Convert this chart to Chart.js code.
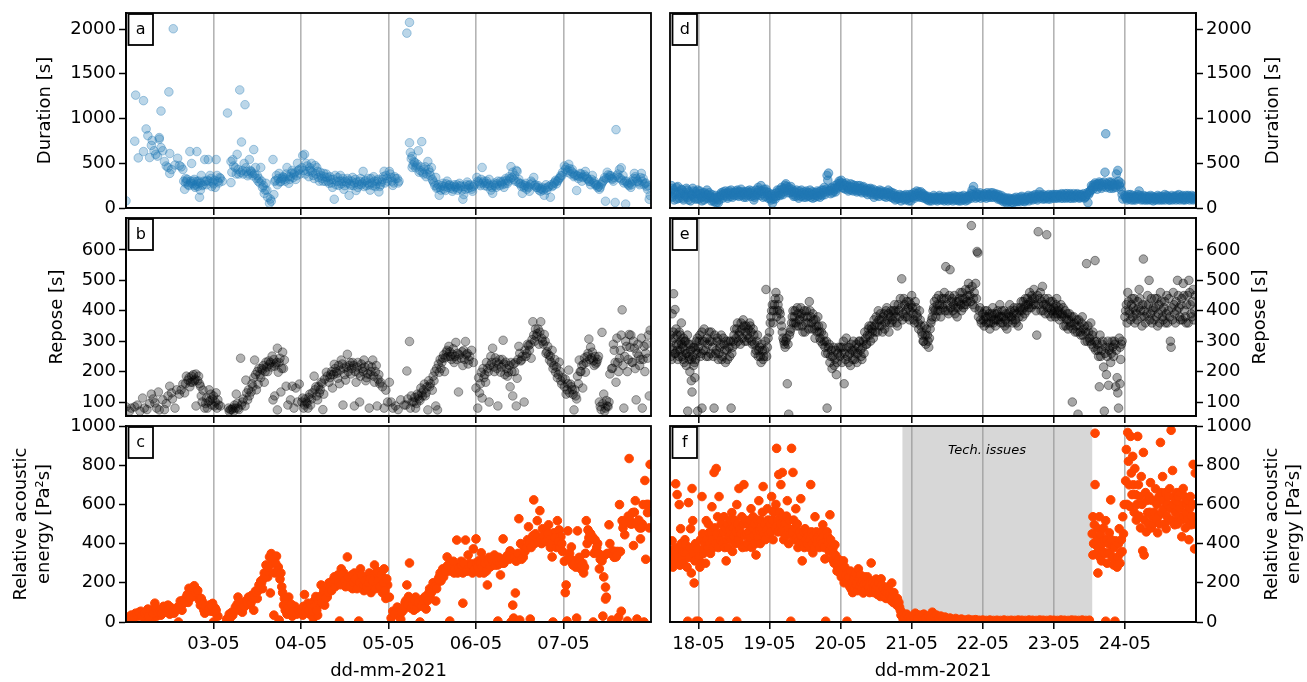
<!DOCTYPE html>
<html>
<head>
<meta charset="utf-8">
<script src="https://cdn.jsdelivr.net/npm/chart.js@4.4.1/dist/chart.umd.min.js"></script>
<style>
  body { margin: 0; background: #fff; }
  #wrap { position: relative; width: 1307px; height: 682px; overflow: hidden; }
  #wrap canvas { position: absolute; }
</style>
</head>
<body>
<div id="wrap"></div>
<script>
// tick positions / labels
var leftDays = [3, 4, 5, 6, 7];
var rightDays = [18, 19, 20, 21, 22, 23, 24];
var durTicks = [0, 500, 1000, 1500, 2000];
var reposeTicks = [100, 200, 300, 400, 500, 600];
var energyTicks = [0, 200, 400, 600, 800, 1000];
var techIssues = [20.87, 23.54];

// [day of May, value]
var durLeft = [
[2.00,80],[2.10,747],[2.11,1262],[2.14,560],[2.20,1200],[2.20,631],[2.23,884],[2.25,809],[2.27,564],[2.29,700],[2.30,755],[2.32,640],[2.34,600],[2.36,580],[2.38,787],[2.38,770],[2.40,675],[2.40,1084],[2.42,640],[2.44,520],[2.46,470],[2.48,453],[2.49,1298],[2.50,609],[2.50,387],[2.52,430],[2.54,2004],[2.56,480],[2.59,556],[2.61,475],[2.63,460],[2.65,431],[2.67,209],[2.68,330],[2.69,300],[2.71,260],[2.73,631],[2.74,280],[2.75,498],[2.77,300],[2.78,250],[2.79,231],[2.81,631],[2.81,298],[2.82,276],[2.84,120],[2.85,200],[2.86,364],[2.88,260],[2.90,542],[2.91,298],[2.93,310],[2.94,542],[2.96,364],[2.98,240],[2.99,290],[3.02,231],[3.03,542],[3.04,364],[3.05,298],[3.07,340],[3.10,300],
[2.66,300],[2.68,280],[2.70,320],[2.72,250],[2.74,300],[2.76,270],[2.78,320],[2.80,260],[2.82,240],[2.83,300],[2.85,280],[2.87,250],[2.89,300],[2.92,260],[2.95,300],[2.97,330],[3.00,270],[3.01,310],[3.06,280],[3.08,330],
[3.16,1062],[3.20,520],[3.20,284],[3.22,540],[3.25,450],[3.27,600],[3.29,380],[3.30,1320],[3.32,738],[3.33,420],[3.35,498],[3.36,1155],[3.38,409],[3.40,380],[3.41,542],[3.43,409],[3.45,360],[3.46,653],[3.48,453],[3.50,364],[3.52,330],[3.54,453],[3.55,300],[3.57,250],[3.58,164],[3.60,276],[3.61,200],[3.62,120],[3.64,53],[3.65,100],[3.66,76],[3.68,542],[3.69,150],[3.70,298],[3.72,364],[3.73,260],[3.75,387],[3.77,298],[3.78,330],[3.80,342],[3.82,300],[3.84,453],[3.86,276],[3.88,350],[3.90,420],[3.92,380],[3.94,320],[3.96,500],[3.98,430],
[3.21,400],[3.23,470],[3.26,380],[3.28,430],[3.31,400],[3.34,380],[3.37,450],[3.39,360],[3.42,420],[3.44,390],[3.47,380],[3.49,330],[3.51,300],[3.53,280],[3.56,230],[3.59,200],
[3.71,310],[3.74,330],[3.76,290],[3.79,350],[3.81,320],[3.83,380],[3.85,350],[3.87,320],[3.89,390],[3.91,340],[3.93,400],[3.95,360],[3.97,420],[3.99,380],
[4.02,587],[4.04,600],[4.06,498],[4.08,409],[4.10,450],[4.12,498],[4.14,364],[4.16,475],[4.18,453],[4.20,342],[4.22,400],[4.24,330],[4.26,387],[4.28,298],[4.30,342],[4.32,276],[4.34,320],[4.36,231],[4.38,98],[4.39,364],[4.41,298],[4.43,253],[4.45,364],[4.47,300],[4.49,209],[4.51,298],[4.53,330],[4.55,142],[4.57,253],[4.59,342],[4.61,280],[4.63,196],[4.65,231],[4.67,298],[4.69,260],[4.71,409],[4.73,300],[4.75,250],[4.77,330],[4.79,200],[4.81,280],[4.83,350],[4.85,240],[4.87,300],[4.89,180],[4.91,260],[4.93,320],[4.95,410],[4.97,364],[4.99,300],
[4.01,450],[4.03,420],[4.05,380],[4.07,470],[4.09,350],[4.11,420],[4.13,400],[4.15,330],[4.17,380],[4.19,410],[4.21,300],[4.23,360],[4.25,300],[4.27,350],[4.29,380],[4.31,300],[4.33,350],[4.35,280],[4.37,320],[4.40,260],[4.42,340],[4.44,300],[4.46,270],[4.48,330],[4.50,250],[4.52,280],[4.54,310],[4.56,270],[4.58,300],[4.60,250],[4.62,320],[4.64,290],[4.66,260],[4.68,330],[4.70,280],[4.72,240],[4.74,310],[4.76,280],[4.78,260],[4.80,330],[4.82,250],[4.84,300],[4.86,270],[4.88,320],[4.90,240],[4.92,290],[4.94,350],[4.96,280],[4.98,330],
[5.01,409],[5.03,342],[5.05,253],[5.07,350],[5.10,330],[5.12,300],[5.21,1955],[5.24,2075],[5.24,729],[5.25,620],[5.27,578],[5.27,453],[5.29,520],[5.30,507],[5.32,470],[5.34,640],[5.35,400],[5.37,460],[5.38,742],[5.40,380],[5.41,431],[5.43,350],[5.45,520],[5.47,400],[5.49,453],[5.51,300],[5.53,250],[5.54,342],[5.56,231],[5.58,142],[5.60,200],[5.62,276],[5.64,240],[5.65,196],[5.67,300],[5.69,253],[5.71,220],[5.73,187],[5.75,260],[5.77,231],[5.79,200],[5.81,276],[5.83,240],[5.85,98],[5.86,150],[5.88,209],[5.90,290],[5.92,253],[5.94,230],[5.96,187],[5.98,260],
[5.02,380],[5.04,300],[5.06,280],[5.08,330],[5.11,280],[5.26,550],[5.28,480],[5.31,450],[5.33,490],[5.36,420],[5.39,400],[5.42,460],[5.44,380],[5.46,430],[5.48,360],[5.50,320],
[5.52,280],[5.55,220],[5.57,260],[5.59,230],[5.61,250],[5.63,210],[5.66,270],[5.68,230],[5.70,260],[5.72,240],[5.74,210],[5.76,240],[5.78,260],[5.80,220],[5.82,250],[5.84,200],[5.87,240],[5.89,260],[5.91,220],[5.93,260],[5.95,210],[5.97,240],
[6.01,342],[6.03,290],[6.05,250],[6.07,453],[6.09,300],[6.11,276],[6.13,240],[6.15,320],[6.17,200],[6.19,164],[6.21,280],[6.23,231],[6.25,300],[6.28,298],[6.30,260],[6.32,231],[6.34,330],[6.36,276],[6.38,350],[6.40,462],[6.42,400],[6.44,364],[6.46,420],[6.47,409],[6.49,320],[6.51,276],[6.53,164],[6.55,230],[6.57,276],[6.59,240],[6.61,187],[6.63,300],[6.66,342],[6.68,260],[6.70,231],[6.72,200],[6.74,187],[6.76,230],[6.78,142],[6.80,260],[6.82,231],[6.85,120],[6.87,240],[6.89,276],[6.91,310],[6.93,298],[6.95,330],[6.97,364],[6.99,400],
[6.02,300],[6.04,270],[6.06,320],[6.08,280],[6.10,250],[6.12,300],[6.14,270],[6.16,250],[6.18,230],[6.20,260],[6.22,250],[6.24,270],[6.27,250],[6.29,280],[6.31,300],[6.33,270],[6.35,310],[6.37,300],[6.39,330],[6.41,340],[6.43,320],[6.45,300],[6.48,290],[6.50,270],[6.52,240],[6.54,260],[6.56,250],[6.58,210],[6.60,230],[6.62,260],[6.64,280],[6.67,250],[6.69,230],[6.71,250],[6.73,220],[6.75,210],[6.77,200],[6.79,220],[6.81,200],[6.83,240],[6.86,260],[6.88,250],[6.90,290],[6.92,270],[6.94,310],[6.96,340],[6.98,360],
[7.01,470],[7.03,453],[7.05,420],[7.06,489],[7.08,380],[7.10,431],[7.12,350],[7.13,364],[7.15,196],[7.17,330],[7.19,387],[7.21,300],[7.23,350],[7.25,409],[7.27,330],[7.29,298],[7.31,260],[7.33,364],[7.35,300],[7.37,253],[7.39,230],[7.41,209],[7.43,260],[7.45,298],[7.47,340],[7.48,76],[7.50,400],[7.53,364],[7.55,330],[7.57,300],[7.59,62],[7.60,876],[7.62,380],[7.64,431],[7.66,450],[7.68,364],[7.70,300],[7.71,44],[7.73,276],[7.75,250],[7.77,231],[7.79,300],[7.81,387],[7.83,330],[7.85,298],[7.87,260],[7.89,387],[7.91,330],[7.93,276],[7.95,240],[7.96,209],[7.98,98],[7.99,140],
[7.02,430],[7.04,400],[7.07,440],[7.09,410],[7.11,390],[7.14,370],[7.16,360],[7.18,350],[7.20,380],[7.22,340],[7.24,370],[7.26,350],[7.28,320],[7.30,300],[7.32,320],[7.34,280],[7.36,270],[7.38,260],[7.40,240],[7.42,230],[7.44,280],[7.46,310],[7.49,330],[7.51,370],[7.52,340],[7.54,360],[7.56,320],[7.58,340],[7.61,360],[7.63,340],[7.65,330],[7.67,310],[7.69,280],[7.72,300],[7.74,260],[7.76,280],[7.78,260],[7.80,330],[7.82,350],[7.84,300],[7.86,280],[7.88,340],[7.90,300],[7.92,260],[7.94,280],[7.97,250]
];

var reposeLeft = [
[2.00,84],[2.04,70],[2.10,84],[2.13,90],[2.19,113],[2.21,80],[2.24,75],[2.27,95],[2.29,126],[2.33,97],[2.37,133],[2.38,74],[2.42,107],[2.44,75],[2.48,120],[2.50,152],[2.53,110],[2.56,80],[2.58,140],[2.61,126],[2.65,159],[2.67,130],[2.69,185],[2.71,172],[2.73,150],[2.75,185],[2.76,165],[2.78,170],[2.80,192],[2.80,87],[2.83,185],[2.85,152],[2.86,120],[2.88,139],[2.90,80],[2.92,113],[2.94,100],[2.95,140],[2.97,126],[2.99,110],[3.01,87],[3.03,130],[3.05,107],[3.06,90],[3.08,87],
[2.06,80],[2.16,70],[2.31,110],[2.35,80],[2.46,95],[2.52,130],[2.63,140],[2.68,160],[2.72,180],[2.74,165],[2.77,190],[2.79,175],[2.82,170],[2.84,160],[2.87,100],[2.91,95],[2.93,80],[2.96,105],[2.98,90],[3.00,120],[3.02,100],[3.04,80],
[3.17,80],[3.19,75],[3.22,80],[3.24,90],[3.26,126],[3.28,80],[3.31,244],[3.33,100],[3.36,87],[3.37,172],[3.39,107],[3.41,120],[3.43,133],[3.45,150],[3.47,238],[3.49,140],[3.51,159],[3.52,211],[3.54,180],[3.56,205],[3.58,165],[3.60,231],[3.62,200],[3.64,224],[3.66,215],[3.67,251],[3.68,107],[3.70,218],[3.70,120],[3.72,230],[3.73,277],[3.73,74],[3.74,198],[3.76,244],[3.77,133],[3.78,210],[3.79,264],[3.81,238],[3.83,152],[3.85,90],[3.88,107],[3.90,152],[3.92,80],[3.94,146],[3.96,100],[3.98,159],
[3.18,70],[3.21,75],[3.23,70],[3.25,80],[3.27,95],[3.29,75],[3.32,90],[3.34,110],[3.38,130],[3.40,140],[3.44,160],[3.46,180],[3.48,190],[3.50,200],[3.53,190],[3.55,210],[3.57,220],[3.59,200],[3.61,215],[3.63,235],[3.65,230],[3.69,240],[3.71,225],[3.75,230],[3.80,210],
[4.02,113],[4.04,90],[4.06,100],[4.08,80],[4.10,126],[4.12,110],[4.15,185],[4.17,150],[4.19,107],[4.21,130],[4.23,165],[4.25,75],[4.26,126],[4.29,198],[4.32,165],[4.34,190],[4.36,146],[4.38,224],[4.40,200],[4.42,178],[4.44,160],[4.46,238],[4.48,90],[4.49,211],[4.51,172],[4.53,257],[4.55,220],[4.57,192],[4.59,230],[4.61,87],[4.63,165],[4.65,230],[4.67,100],[4.68,185],[4.70,210],[4.72,238],[4.74,170],[4.76,192],[4.78,80],[4.80,200],[4.82,238],[4.84,165],[4.86,220],[4.87,87],[4.89,190],[4.91,165],[4.93,150],[4.95,80],[4.97,139],[4.99,100],
[4.01,100],[4.03,80],[4.05,110],[4.07,95],[4.09,115],[4.11,90],[4.13,130],[4.16,140],[4.18,120],[4.20,150],[4.22,140],[4.24,160],[4.27,175],[4.30,185],[4.33,180],[4.35,200],[4.37,190],[4.39,210],[4.41,195],[4.43,220],[4.45,205],[4.47,225],[4.50,190],[4.52,215],[4.54,200],[4.56,230],[4.58,210],[4.60,220],[4.62,200],[4.64,215],[4.66,195],[4.69,225],[4.71,200],[4.73,215],[4.75,180],[4.77,220],[4.79,190],[4.81,215],[4.83,185],[4.85,200],[4.88,175],[4.90,160],
[5.01,165],[5.03,100],[5.05,80],[5.08,87],[5.11,75],[5.14,107],[5.18,90],[5.21,202],[5.24,299],[5.26,120],[5.29,100],[5.31,80],[5.33,126],[5.35,110],[5.37,146],[5.39,120],[5.41,159],[5.43,130],[5.45,74],[5.47,150],[5.50,139],[5.52,170],[5.54,87],[5.56,74],[5.58,198],[5.60,210],[5.62,244],[5.64,200],[5.66,264],[5.69,283],[5.71,250],[5.73,257],[5.75,230],[5.77,296],[5.79,260],[5.80,133],[5.83,244],[5.85,220],[5.86,270],[5.88,299],[5.90,260],[5.92,238],[5.95,270],[5.97,230],
[5.20,90],[5.22,110],[5.25,80],[5.27,100],[5.30,115],[5.32,95],[5.34,120],[5.36,105],[5.38,130],[5.40,140],[5.42,120],[5.44,150],[5.46,170],[5.48,160],[5.51,185],[5.53,200],[5.55,210],[5.57,225],[5.59,240],[5.61,230],[5.63,255],[5.65,245],[5.67,270],[5.68,250],[5.70,265],[5.72,240],[5.74,275],[5.76,250],[5.78,240],[5.81,255],[5.84,265],[5.87,240],[5.89,255],[5.91,225],[5.93,250],
[6.00,146],[6.02,80],[6.04,130],[6.06,198],[6.07,113],[6.09,180],[6.11,165],[6.13,210],[6.15,100],[6.17,250],[6.19,277],[6.21,200],[6.23,231],[6.25,87],[6.27,240],[6.28,198],[6.31,303],[6.33,190],[6.34,231],[6.37,198],[6.39,150],[6.42,120],[6.44,200],[6.46,87],[6.47,178],[6.49,283],[6.52,238],[6.55,100],[6.57,250],[6.59,290],[6.61,270],[6.63,244],[6.65,364],[6.67,300],[6.69,316],[6.71,340],[6.72,290],[6.74,364],[6.76,300],[6.78,322],[6.80,260],[6.82,283],[6.84,238],[6.87,270],[6.89,220],[6.91,198],[6.93,180],[6.95,231],[6.98,159],
[6.03,180],[6.05,160],[6.08,210],[6.10,190],[6.12,230],[6.14,200],[6.16,220],[6.18,230],[6.20,215],[6.22,245],[6.24,210],[6.26,225],[6.29,215],[6.30,240],[6.32,225],[6.35,210],[6.36,185],[6.38,220],[6.40,230],[6.41,200],[6.43,225],[6.45,230],[6.48,240],[6.50,260],[6.51,235],[6.53,250],[6.56,270],[6.58,260],[6.60,285],[6.62,290],[6.64,305],[6.66,320],[6.68,340],[6.70,325],[6.73,330],[6.75,310],[6.77,290],[6.79,300],[6.81,265],[6.83,255],[6.85,250],[6.86,230],[6.88,210],[6.90,240],[6.92,215],[6.94,190],[6.96,200],[6.97,170],[6.99,180],
[7.01,150],[7.03,126],[7.06,205],[7.08,159],[7.10,140],[7.12,74],[7.14,120],[7.16,185],[7.18,238],[7.20,200],[7.22,146],[7.25,198],[7.27,250],[7.29,307],[7.31,280],[7.33,264],[7.35,220],[7.38,231],[7.40,250],[7.41,100],[7.44,329],[7.46,126],[7.48,80],[7.50,87],[7.52,100],[7.53,192],[7.56,211],[7.58,270],[7.60,165],[7.62,230],[7.64,244],[7.67,403],[7.69,80],[7.70,250],[7.72,283],[7.74,240],[7.75,322],[7.78,231],[7.81,277],[7.83,107],[7.84,260],[7.86,251],[7.88,240],[7.90,80],[7.92,283],[7.94,260],[7.96,244],[7.98,120],[7.99,336],
[7.02,175],[7.04,140],[7.05,160],[7.07,130],[7.09,150],[7.11,125],[7.13,140],[7.15,110],[7.17,160],[7.19,200],[7.21,220],[7.23,225],[7.24,245],[7.26,230],[7.28,260],[7.30,240],[7.32,245],[7.34,235],[7.36,250],[7.37,225],[7.39,240],[7.42,85],[7.43,75],[7.45,95],[7.47,70],[7.49,105],[7.51,85],[7.55,210],[7.57,290],[7.59,230],[7.61,310],[7.63,200],[7.65,270],[7.66,320],[7.68,220],[7.71,300],[7.73,200],[7.76,280],[7.77,320],[7.79,230],[7.80,300],[7.82,210],[7.85,290],[7.87,220],[7.89,310],[7.91,240],[7.93,200],[7.95,290],[7.97,320]
];

var energyLeft = [
[2.00,25],[2.02,5],[2.05,29],[2.08,15],[2.11,45],[2.14,30],[2.17,55],[2.20,35],[2.22,10],[2.25,66],[2.27,40],[2.29,50],[2.30,0],[2.33,96],[2.35,30],[2.37,55],[2.40,35],[2.42,70],[2.44,55],[2.48,86],[2.50,40],[2.52,60],[2.55,45],[2.59,76],[2.60,0],[2.62,107],[2.64,60],[2.66,96],[2.69,127],[2.71,100],[2.72,172],[2.74,150],[2.76,148],[2.78,185],[2.80,168],[2.81,140],[2.83,127],[2.85,86],[2.87,107],[2.89,60],[2.90,45],[2.93,76],[2.95,86],[2.97,55],[2.99,95],[3.00,0],[3.02,70],[3.05,30],
[2.03,20],[2.06,35],[2.09,25],[2.12,40],[2.15,50],[2.18,30],[2.21,45],[2.24,55],[2.26,30],[2.28,60],[2.31,45],[2.34,70],[2.36,50],[2.39,60],[2.41,45],[2.43,80],[2.46,50],[2.49,65],[2.51,75],[2.54,55],[2.57,60],[2.61,80],[2.63,90],[2.65,110],[2.67,100],[2.70,140],[2.73,120],[2.75,165],[2.77,130],[2.79,150],[2.82,160],[2.84,110],[2.86,120],[2.88,90],[2.91,80],[2.94,60],[2.96,70],[2.98,80],[3.01,50],[3.03,60],
[3.15,14],[3.18,40],[3.22,35],[3.25,76],[3.28,127],[3.30,60],[3.31,86],[3.33,50],[3.35,100],[3.37,107],[3.40,127],[3.42,90],[3.44,137],[3.46,60],[3.48,158],[3.50,120],[3.52,189],[3.54,209],[3.56,170],[3.58,250],[3.60,291],[3.62,230],[3.64,332],[3.65,148],[3.66,349],[3.68,301],[3.69,35],[3.70,250],[3.72,336],[3.74,281],[3.75,10],[3.76,219],[3.78,180],[3.80,86],[3.82,60],[3.84,40],[3.86,127],[3.88,50],[3.90,30],[3.93,80],
[3.19,20],[3.21,50],[3.24,55],[3.27,90],[3.29,100],[3.32,70],[3.34,85],[3.36,80],[3.39,95],[3.41,110],[3.43,100],[3.45,120],[3.47,130],[3.49,150],[3.51,160],[3.53,175],[3.55,200],[3.57,220],[3.59,230],[3.61,260],[3.63,280],[3.67,320],[3.71,300],[3.73,260],[3.77,250],[3.79,150],[3.81,120],[3.83,90],[3.85,70],[3.87,60],[3.89,90],[3.91,55],[3.95,40],[3.97,60],[3.99,50],
[4.02,35],[4.04,140],[4.06,60],[4.08,96],[4.10,40],[4.12,66],[4.14,20],[4.15,107],[4.17,130],[4.19,35],[4.21,90],[4.23,189],[4.25,140],[4.27,86],[4.29,160],[4.30,127],[4.32,200],[4.34,168],[4.36,210],[4.38,230],[4.40,190],[4.42,240],[4.44,5],[4.46,271],[4.48,220],[4.49,250],[4.51,180],[4.53,332],[4.55,200],[4.57,219],[4.59,170],[4.61,250],[4.63,190],[4.65,230],[4.66,5],[4.68,271],[4.70,209],[4.72,160],[4.74,168],[4.76,230],[4.78,250],[4.80,150],[4.81,189],[4.83,240],[4.84,291],[4.86,200],[4.87,260],[4.89,180],[4.91,219],[4.93,150],[4.95,271],[4.97,120],[4.99,189],
[4.01,60],[4.03,80],[4.05,50],[4.07,75],[4.09,60],[4.11,90],[4.13,55],[4.16,80],[4.18,60],[4.20,110],[4.22,130],[4.24,100],[4.26,160],[4.28,120],[4.31,150],[4.33,180],[4.35,160],[4.37,200],[4.39,180],[4.41,220],[4.43,200],[4.45,190],[4.47,240],[4.50,210],[4.52,190],[4.54,230],[4.56,180],[4.58,240],[4.60,200],[4.62,220],[4.64,170],[4.67,200],[4.69,240],[4.71,190],[4.73,210],[4.75,180],[4.77,200],[4.79,220],[4.82,210],[4.85,170],[4.88,210],[4.90,180],[4.92,240],[4.94,200],[4.96,160],[4.98,220],
[5.01,127],[5.03,20],[5.05,55],[5.07,40],[5.10,76],[5.12,30],[5.14,14],[5.17,60],[5.19,100],[5.21,189],[5.24,301],[5.27,96],[5.29,60],[5.31,127],[5.33,80],[5.35,86],[5.36,0],[5.37,100],[5.39,117],[5.41,90],[5.43,66],[5.44,130],[5.46,148],[5.48,120],[5.50,160],[5.52,189],[5.54,107],[5.56,200],[5.58,230],[5.60,210],[5.62,271],[5.64,250],[5.66,280],[5.67,332],[5.69,260],[5.70,5],[5.71,291],[5.73,300],[5.75,250],[5.77,280],[5.78,418],[5.79,250],[5.81,291],[5.83,310],[5.85,250],[5.85,96],[5.87,280],[5.88,418],[5.90,260],[5.91,342],[5.93,300],[5.94,271],[5.96,250],[5.97,373],[5.99,300],
[5.15,50],[5.18,80],[5.20,110],[5.22,90],[5.23,130],[5.25,110],[5.26,70],[5.28,90],[5.30,110],[5.32,70],[5.34,100],[5.38,80],[5.40,110],[5.42,130],[5.45,110],[5.47,170],[5.49,150],[5.51,200],[5.53,180],[5.55,170],[5.57,220],[5.59,250],[5.61,240],[5.63,230],[5.65,260],[5.68,290],[5.72,270],[5.74,310],[5.76,270],[5.80,270],[5.82,260],[5.84,290],[5.86,300],[5.89,260],[5.92,280],[5.95,290],[5.98,270],
[6.00,424],[6.01,300],[6.03,312],[6.04,250],[6.06,353],[6.08,320],[6.09,250],[6.11,280],[6.13,189],[6.15,330],[6.17,291],[6.19,300],[6.21,342],[6.23,320],[6.25,291],[6.25,5],[6.26,330],[6.28,240],[6.30,300],[6.31,424],[6.33,320],[6.35,332],[6.37,330],[6.39,363],[6.40,0],[6.41,350],[6.42,86],[6.43,20],[6.45,148],[6.47,330],[6.49,527],[6.50,10],[6.51,400],[6.53,342],[6.55,380],[6.57,373],[6.59,420],[6.60,486],[6.62,390],[6.62,15],[6.64,414],[6.66,623],[6.68,450],[6.70,517],[6.72,430],[6.73,568],[6.75,400],[6.76,476],[6.78,420],[6.79,435],[6.81,460],[6.83,496],[6.85,380],[6.87,332],[6.88,0],[6.89,455],[6.91,400],[6.93,517],[6.95,470],[6.97,435],[6.99,360],
[6.02,280],[6.05,300],[6.07,280],[6.10,300],[6.12,260],[6.14,310],[6.16,280],[6.18,320],[6.20,300],[6.22,290],[6.24,310],[6.27,300],[6.29,320],[6.32,300],[6.34,320],[6.36,340],[6.38,320],[6.44,330],[6.46,310],[6.48,350],[6.52,320],[6.54,330],[6.56,360],[6.58,380],[6.61,400],[6.63,380],[6.65,440],[6.67,400],[6.69,430],[6.71,410],[6.74,420],[6.77,440],[6.80,410],[6.82,450],[6.84,420],[6.86,400],[6.90,430],[6.92,380],[6.94,410],[6.96,380],[6.98,400],
[7.01,310],[7.02,150],[7.03,189],[7.04,5],[7.05,465],[7.07,350],[7.09,383],[7.10,300],[7.12,312],[7.14,280],[7.15,20],[7.16,465],[7.18,330],[7.20,271],[7.22,300],[7.23,250],[7.26,517],[7.28,470],[7.30,455],[7.32,420],[7.33,435],[7.34,0],[7.35,350],[7.37,363],[7.39,400],[7.41,271],[7.43,340],[7.44,312],[7.45,30],[7.46,230],[7.48,178],[7.48,117],[7.49,127],[7.52,496],[7.54,350],[7.55,10],[7.56,363],[7.58,330],[7.60,332],[7.62,360],[7.63,25],[7.64,599],[7.66,55],[7.67,517],[7.70,445],[7.72,520],[7.73,5],[7.75,834],[7.77,500],[7.79,558],[7.80,390],[7.82,619],[7.84,15],[7.85,496],[7.87,480],[7.88,424],[7.90,500],[7.91,599],[7.92,0],[7.93,722],[7.94,320],[7.96,558],[7.97,600],[7.99,804],
[7.06,330],[7.08,320],[7.11,290],[7.13,300],[7.17,300],[7.19,310],[7.21,290],[7.24,280],[7.25,350],[7.27,400],[7.29,430],[7.31,450],[7.36,420],[7.38,380],[7.40,350],[7.42,320],[7.47,340],[7.50,350],[7.53,400],[7.57,340],[7.59,360],[7.61,340],[7.65,360],[7.68,480],[7.69,500],[7.71,510],[7.74,540],[7.76,520],[7.78,500],[7.81,560],[7.83,500],[7.86,520],[7.89,480],[7.95,600],[7.98,480]
];

var durRight = [
[17.60,180],[17.62,250],[17.63,120],[17.65,200],[17.67,150],[17.69,230],[17.70,100],[17.72,180],[17.74,140],[17.76,210],[17.78,110],[17.80,170],[17.82,130],[17.84,200],[17.86,90],[17.88,160],[17.90,140],[17.92,220],[17.94,120],[17.96,180],[17.98,100],
[17.61,130],[17.64,220],[17.66,90],[17.68,170],[17.71,240],[17.73,110],[17.75,160],[17.77,200],[17.79,90],[17.81,150],[17.83,220],[17.85,120],[17.87,180],[17.89,80],[17.91,150],[17.93,190],[17.95,100],[17.97,160],[17.99,200],
[18.00,150],[18.02,190],[18.04,120],[18.06,170],[18.08,90],[18.10,150],[18.12,200],[18.14,110],[18.16,140],[18.18,80],[18.20,120],[18.22,70],[18.24,140],[18.26,100],[18.28,60],[18.30,130],[18.32,170],[18.34,110],[18.36,160],[18.38,190],[18.40,130],[18.42,170],[18.44,150],[18.46,200],[18.48,120],[18.50,170],[18.52,190],[18.54,140],[18.56,180],[18.58,150],[18.60,210],[18.62,160],[18.64,120],[18.66,180],[18.68,140],[18.70,170],[18.72,200],[18.74,130],[18.76,160],[18.78,90],[18.80,140],[18.82,170],[18.84,230],[18.86,180],[18.88,250],[18.90,160],[18.92,210],[18.94,130],[18.96,180],[18.98,110],
[18.01,100],[18.03,160],[18.05,80],[18.07,130],[18.09,170],[18.11,110],[18.13,150],[18.15,170],[18.17,120],[18.19,150],[18.21,90],[18.23,110],[18.25,60],[18.27,120],[18.29,90],[18.31,150],[18.33,140],[18.35,180],[18.37,140],[18.39,160],[18.41,110],[18.43,190],[18.45,130],[18.47,170],[18.49,150],[18.51,140],[18.53,170],[18.55,200],[18.57,130],[18.59,180],[18.61,140],[18.63,180],[18.65,150],[18.67,120],[18.69,190],[18.71,150],[18.73,170],[18.75,190],[18.77,140],[18.79,120],[18.81,200],[18.83,150],[18.85,200],[18.87,140],[18.89,190],[18.91,120],[18.93,180],[18.95,210],[18.97,150],[18.99,170],
[19.00,140],[19.02,90],[19.04,53],[19.06,130],[19.08,100],[19.10,170],[19.12,140],[19.14,200],[19.16,160],[19.18,210],[19.20,180],[19.22,253],[19.23,270],[19.25,200],[19.27,230],[19.29,170],[19.31,210],[19.33,150],[19.35,190],[19.37,130],[19.39,170],[19.41,110],[19.43,160],[19.45,200],[19.47,140],[19.49,180],[19.51,120],[19.53,170],[19.55,140],[19.57,200],[19.59,150],[19.61,110],[19.63,170],[19.65,140],[19.67,190],[19.69,160],[19.71,120],[19.73,200],[19.75,170],[19.77,230],[19.79,180],[19.81,364],[19.82,311],[19.83,390],[19.84,200],[19.86,160],[19.88,230],[19.90,190],[19.92,250],[19.94,210],[19.96,270],[19.98,300],
[19.01,110],[19.03,150],[19.05,100],[19.07,160],[19.09,130],[19.11,200],[19.13,170],[19.15,140],[19.17,230],[19.19,150],[19.21,220],[19.24,240],[19.26,170],[19.28,200],[19.30,240],[19.32,180],[19.34,130],[19.36,170],[19.38,200],[19.40,140],[19.42,190],[19.44,130],[19.46,170],[19.48,120],[19.50,150],[19.52,190],[19.54,130],[19.56,170],[19.58,120],[19.60,180],[19.62,150],[19.64,120],[19.66,170],[19.68,130],[19.70,180],[19.72,150],[19.74,140],[19.76,200],[19.78,150],[19.80,210],[19.85,190],[19.87,220],[19.89,170],[19.91,220],[19.93,180],[19.95,230],[19.97,240],[19.99,280],
[20.00,250],[20.01,310],[20.03,230],[20.05,270],[20.07,210],[20.09,250],[20.11,190],[20.13,240],[20.15,200],[20.17,260],[20.19,210],[20.21,230],[20.23,180],[20.25,220],[20.27,250],[20.29,190],[20.31,230],[20.33,200],[20.35,170],[20.37,220],[20.39,180],[20.41,210],[20.43,150],[20.45,190],[20.47,120],[20.49,170],[20.51,140],[20.53,180],[20.55,200],[20.57,150],[20.59,170],[20.61,130],[20.63,180],[20.65,150],[20.67,200],[20.69,160],[20.71,120],[20.73,170],[20.75,140],[20.77,90],[20.79,130],[20.81,110],[20.83,150],[20.85,80],[20.87,120],[20.89,140],[20.91,90],[20.93,130],[20.95,110],[20.97,150],[20.99,80],
[20.02,280],[20.04,220],[20.06,250],[20.08,280],[20.10,230],[20.12,210],[20.14,270],[20.16,230],[20.18,190],[20.20,250],[20.22,200],[20.24,250],[20.26,190],[20.28,220],[20.30,170],[20.32,240],[20.34,190],[20.36,200],[20.38,150],[20.40,190],[20.42,220],[20.44,170],[20.46,210],[20.48,150],[20.50,190],[20.52,160],[20.54,130],[20.56,170],[20.58,190],[20.60,150],[20.62,160],[20.64,120],[20.66,170],[20.68,130],[20.70,180],[20.72,140],[20.74,110],[20.76,160],[20.78,120],[20.80,100],[20.82,130],[20.84,110],[20.86,140],[20.88,100],[20.90,120],[20.92,150],[20.94,100],[20.96,80],[20.98,120],
[21.01,120],[21.03,170],[21.05,140],[21.07,190],[21.09,160],[21.11,120],[21.13,180],[21.15,150],[21.17,110],[21.19,140],[21.21,100],[21.23,130],[21.25,80],[21.27,120],[21.29,100],[21.31,140],[21.33,90],[21.35,120],[21.37,100],[21.39,140],[21.41,110],[21.43,90],[21.45,130],[21.47,100],[21.49,120],[21.51,80],[21.53,110],[21.55,130],[21.57,100],[21.59,140],[21.61,90],[21.63,120],[21.65,100],[21.67,130],[21.69,80],[21.71,110],[21.73,140],[21.75,100],[21.77,120],[21.79,90],[21.81,130],[21.83,160],[21.85,200],[21.87,240],[21.89,140],[21.91,170],[21.93,120],[21.95,150],[21.97,110],
[21.00,150],[21.02,140],[21.04,110],[21.06,160],[21.08,130],[21.10,180],[21.12,140],[21.14,120],[21.16,160],[21.18,130],[21.20,120],[21.22,90],[21.24,110],[21.26,100],[21.28,80],[21.30,110],[21.32,120],[21.34,100],[21.36,80],[21.38,120],[21.40,90],[21.42,120],[21.44,100],[21.46,80],[21.48,110],[21.50,100],[21.52,130],[21.54,90],[21.56,110],[21.58,80],[21.60,110],[21.62,130],[21.64,90],[21.66,80],[21.68,110],[21.70,130],[21.72,90],[21.74,110],[21.76,80],[21.78,130],[21.80,110],[21.82,140],[21.84,110],[21.86,150],[21.88,130],[21.90,110],[21.92,150],[21.94,130],[21.96,170],[21.98,140],
[22.00,140],[22.02,160],[22.04,130],[22.06,170],[22.08,140],[22.10,150],[22.12,120],[22.14,170],[22.16,140],[22.18,160],[22.20,120],[22.22,150],[22.24,110],[22.26,140],[22.28,90],[22.30,120],[22.32,80],[22.34,110],[22.36,70],[22.38,100],[22.40,60],[22.42,90],[22.44,110],[22.46,70],[22.48,100],[22.50,80],[22.52,120],[22.54,90],[22.56,110],[22.58,80],[22.60,120],[22.62,100],[22.64,140],[22.66,110],[22.68,130],[22.70,90],[22.72,120],[22.74,150],[22.76,110],[22.78,130],[22.80,180],[22.82,140],[22.84,100],[22.86,130],[22.88,110],[22.90,140],[22.92,100],[22.94,130],[22.96,120],[22.98,150],
[22.01,120],[22.03,150],[22.05,110],[22.07,150],[22.09,120],[22.11,170],[22.13,140],[22.15,120],[22.17,150],[22.19,130],[22.21,100],[22.23,130],[22.25,90],[22.27,110],[22.29,70],[22.31,100],[22.33,60],[22.35,90],[22.37,110],[22.39,80],[22.41,100],[22.43,60],[22.45,90],[22.47,120],[22.49,70],[22.51,100],[22.53,70],[22.55,130],[22.57,100],[22.59,70],[22.61,90],[22.63,120],[22.65,80],[22.67,100],[22.69,110],[22.71,140],[22.73,100],[22.75,130],[22.77,90],[22.79,150],[22.81,110],[22.83,130],[22.85,150],[22.87,100],[22.89,130],[22.91,120],[22.93,150],[22.95,100],[22.97,140],[22.99,110],
[23.00,130],[23.02,110],[23.04,150],[23.06,120],[23.08,140],[23.10,110],[23.12,150],[23.14,130],[23.16,160],[23.18,120],[23.20,140],[23.22,110],[23.24,150],[23.26,130],[23.28,160],[23.30,120],[23.32,150],[23.34,130],[23.36,110],[23.38,150],[23.40,130],[23.42,160],[23.44,120],[23.46,150],[23.48,60],[23.50,170],[23.52,200],[23.54,230],[23.56,260],[23.58,280],[23.60,240],[23.62,270],[23.64,290],[23.66,250],[23.68,280],[23.70,260],[23.72,400],[23.73,830],[23.74,230],[23.76,260],[23.78,290],[23.80,250],[23.82,270],[23.84,240],[23.86,280],[23.88,380],[23.89,260],[23.90,420],[23.91,300],[23.93,240],[23.95,200],[23.97,100],
[23.01,150],[23.03,130],[23.05,110],[23.07,150],[23.09,130],[23.11,160],[23.13,110],[23.15,140],[23.17,110],[23.19,160],[23.21,130],[23.23,160],[23.25,110],[23.27,140],[23.29,110],[23.31,140],[23.33,160],[23.35,120],[23.37,150],[23.39,120],[23.41,140],[23.43,110],[23.45,130],[23.47,170],[23.49,150],[23.51,190],[23.53,250],[23.55,210],[23.57,240],[23.59,260],[23.61,210],[23.63,240],[23.65,270],[23.67,220],[23.69,240],[23.71,290],[23.75,270],[23.77,240],[23.79,220],[23.81,290],[23.83,220],[23.85,260],[23.87,230],[23.92,260],[23.94,280],[23.96,150],
[24.00,140],[24.02,110],[24.04,130],[24.06,100],[24.08,150],[24.10,120],[24.12,90],[24.14,130],[24.16,110],[24.18,150],[24.20,190],[24.22,120],[24.24,100],[24.26,140],[24.28,110],[24.30,90],[24.32,130],[24.34,100],[24.36,140],[24.38,110],[24.40,80],[24.42,120],[24.44,100],[24.46,140],[24.48,110],[24.50,90],[24.52,130],[24.54,100],[24.56,150],[24.58,110],[24.60,130],[24.62,90],[24.64,120],[24.66,140],[24.68,100],[24.70,130],[24.72,90],[24.74,120],[24.76,150],[24.78,110],[24.80,130],[24.82,90],[24.84,120],[24.86,140],[24.88,100],[24.90,130],[24.92,110],[24.94,140],[24.96,90],[24.98,120],
[24.01,120],[24.03,90],[24.05,150],[24.07,120],[24.09,90],[24.11,140],[24.13,110],[24.15,90],[24.17,130],[24.19,100],[24.21,140],[24.23,90],[24.25,120],[24.27,90],[24.29,130],[24.31,110],[24.33,90],[24.35,120],[24.37,90],[24.39,130],[24.41,110],[24.43,90],[24.45,120],[24.47,90],[24.49,130],[24.51,110],[24.53,90],[24.55,120],[24.57,90],[24.59,140],[24.61,110],[24.63,90],[24.65,120],[24.67,90],[24.69,120],[24.71,110],[24.73,140],[24.75,100],[24.77,90],[24.79,120],[24.81,140],[24.83,100],[24.85,90],[24.87,120],[24.89,140],[24.91,90],[24.93,120],[24.95,100],[24.97,130],[24.99,100]
];

var reposeRight = [
[17.60,280],[17.61,250],[17.62,300],[17.63,390],[17.64,270],[17.65,456],[17.66,310],[17.67,404],[17.68,260],[17.69,290],[17.70,320],[17.71,240],[17.72,290],[17.73,330],[17.74,270],[17.75,300],[17.76,360],[17.77,250],[17.78,280],[17.79,310],[17.80,230],[17.81,270],[17.82,300],[17.83,220],[17.84,260],[17.85,70],[17.86,290],[17.87,240],[17.88,200],[17.89,270],[17.90,170],[17.91,133],[17.92,250],[17.93,220],[17.94,280],[17.95,180],[17.96,240],[17.97,300],[17.98,260],[17.99,70],
[17.605,320],[17.625,240],[17.645,330],[17.665,260],[17.685,340],[17.705,270],[17.725,250],[17.745,320],[17.765,290],[17.785,240],[17.805,300],[17.825,260],[17.845,320],[17.865,250],[17.885,290],[17.905,240],[17.925,280],[17.945,230],[17.965,270],[17.985,310],
[18.00,280],[18.02,320],[18.04,260],[18.05,80],[18.06,300],[18.08,340],[18.10,270],[18.12,310],[18.14,250],[18.16,300],[18.18,330],[18.20,280],[18.22,80],[18.24,260],[18.26,300],[18.28,240],[18.30,280],[18.32,320],[18.34,250],[18.36,290],[18.38,230],[18.40,270],[18.42,300],[18.44,250],[18.46,80],[18.48,280],[18.50,320],[18.52,290],[18.54,340],[18.56,300],[18.58,330],[18.60,360],[18.62,310],[18.64,350],[18.66,330],[18.68,300],[18.70,340],[18.72,360],[18.74,330],[18.76,290],[18.78,320],[18.80,260],[18.82,300],[18.84,250],[18.86,280],[18.88,230],[18.90,270],[18.92,250],[18.94,300],[18.95,470],[18.97,280],
[18.01,300],[18.03,250],[18.05,330],[18.07,270],[18.09,300],[18.11,250],[18.13,290],[18.15,330],[18.17,260],[18.19,300],[18.21,250],[18.23,320],[18.25,270],[18.27,310],[18.29,260],[18.31,290],[18.33,240],[18.35,310],[18.37,270],[18.39,300],[18.41,240],[18.43,280],[18.45,300],[18.47,260],[18.49,300],[18.51,340],[18.53,310],[18.55,360],[18.57,320],[18.59,290],[18.61,340],[18.63,370],[18.65,300],[18.67,350],[18.69,320],[18.71,310],[18.73,350],[18.75,300],[18.77,340],[18.79,290],[18.81,270],[18.83,320],[18.85,270],[18.87,250],[18.89,290],[18.91,240],[18.93,270],[18.96,250],[18.98,310],
[19.00,330],[19.02,380],[19.04,420],[19.05,360],[19.06,400],[19.08,440],[19.09,460],[19.10,380],[19.12,420],[19.14,400],[19.16,370],[19.18,330],[19.20,300],[19.22,280],[19.24,310],[19.25,160],[19.26,290],[19.27,60],[19.28,320],[19.30,340],[19.32,380],[19.34,360],[19.36,400],[19.38,350],[19.40,390],[19.42,370],[19.44,410],[19.46,350],[19.48,380],[19.50,330],[19.52,400],[19.54,360],[19.56,430],[19.58,380],[19.60,340],[19.62,370],[19.64,310],[19.66,350],[19.68,380],[19.70,330],[19.72,300],[19.74,350],[19.76,320],[19.78,280],[19.80,300],[19.81,80],[19.82,260],[19.84,290],[19.86,250],[19.88,210],[19.90,280],[19.92,240],[19.94,190],[19.96,260],
[19.01,360],[19.03,400],[19.07,420],[19.11,400],[19.13,440],[19.15,390],[19.17,350],[19.19,310],[19.21,290],[19.23,300],[19.29,330],[19.31,360],[19.33,400],[19.35,380],[19.37,360],[19.39,410],[19.41,350],[19.43,380],[19.45,390],[19.47,330],[19.49,400],[19.51,360],[19.53,380],[19.55,340],[19.57,400],[19.59,360],[19.61,390],[19.63,340],[19.65,370],[19.67,330],[19.69,350],[19.71,310],[19.73,330],[19.75,290],[19.77,300],[19.79,260],[19.83,280],[19.85,230],[19.87,270],[19.89,250],[19.91,220],[19.93,270],[19.95,230],[19.97,280],[19.99,250],
[20.00,280],[20.02,230],[20.04,300],[20.05,160],[20.06,260],[20.08,310],[20.10,250],[20.12,280],[20.14,220],[20.16,270],[20.18,300],[20.20,240],[20.22,290],[20.24,260],[20.26,300],[20.28,270],[20.30,240],[20.32,300],[20.34,330],[20.36,290],[20.38,320],[20.40,350],[20.42,300],[20.44,340],[20.46,310],[20.48,350],[20.50,380],[20.52,330],[20.54,370],[20.56,390],[20.58,350],[20.60,380],[20.62,340],[20.64,400],[20.66,370],[20.68,330],[20.70,380],[20.72,360],[20.74,400],[20.76,420],[20.78,380],[20.80,350],[20.82,400],[20.84,440],[20.86,505],[20.88,390],[20.90,420],
[20.01,260],[20.03,280],[20.07,240],[20.09,280],[20.11,230],[20.13,260],[20.15,290],[20.17,240],[20.19,270],[20.21,260],[20.23,230],[20.25,280],[20.27,300],[20.29,250],[20.31,280],[20.33,260],[20.35,310],[20.37,290],[20.39,340],[20.41,320],[20.43,350],[20.45,330],[20.47,370],[20.49,330],[20.51,360],[20.53,400],[20.55,350],[20.57,370],[20.59,330],[20.61,390],[20.63,360],[20.65,410],[20.67,390],[20.69,360],[20.71,400],[20.73,370],[20.75,390],[20.77,400],[20.79,360],[20.81,420],[20.83,380],[20.85,410],[20.87,370],[20.89,440],[20.91,380],[20.93,430],[20.95,410],[20.97,370],[20.99,420],
[20.92,400],[20.94,380],[20.96,430],[20.98,400],[21.00,450],[21.02,390],[21.04,360],[21.06,410],[21.08,380],[21.10,340],[21.12,370],[21.14,330],[21.16,300],[21.18,350],[21.20,290],[21.22,320],[21.24,280],[21.26,340],[21.28,370],[21.30,400],[21.32,430],[21.34,380],[21.36,420],[21.38,450],[21.40,400],[21.42,440],[21.44,410],[21.46,460],[21.48,545],[21.50,420],[21.52,390],[21.54,535],[21.56,430],[21.58,400],[21.60,450],[21.62,410],[21.64,380],[21.66,430],[21.68,460],[21.70,400],[21.72,440],[21.74,420],[21.76,470],[21.78,430],[21.80,490],[21.82,450],[21.84,680],[21.86,420],[21.88,460],[21.90,490],[21.92,595],[21.93,590],[21.95,400],[21.97,370],
[21.01,410],[21.03,370],[21.05,430],[21.07,390],[21.09,360],[21.11,400],[21.13,350],[21.15,320],[21.17,300],[21.19,320],[21.21,340],[21.23,300],[21.25,310],[21.27,360],[21.29,380],[21.31,410],[21.33,400],[21.35,440],[21.37,400],[21.39,420],[21.41,380],[21.43,420],[21.45,440],[21.47,400],[21.49,440],[21.51,400],[21.53,450],[21.55,410],[21.57,440],[21.59,420],[21.61,390],[21.63,430],[21.65,410],[21.67,440],[21.69,420],[21.71,460],[21.73,410],[21.75,440],[21.77,420],[21.79,450],[21.81,470],[21.83,430],[21.85,480],[21.87,440],[21.89,410],[21.91,440],[21.94,380],[21.96,410],[21.98,360],
[22.00,390],[22.02,350],[22.04,380],[22.06,400],[22.08,360],[22.10,340],[22.12,380],[22.14,410],[22.16,370],[22.18,350],[22.20,390],[22.22,370],[22.24,420],[22.26,380],[22.28,360],[22.30,400],[22.32,370],[22.34,340],[22.36,390],[22.38,420],[22.40,380],[22.42,360],[22.44,410],[22.46,370],[22.48,390],[22.50,350],[22.52,400],[22.54,430],[22.56,380],[22.58,410],[22.60,440],[22.62,400],[22.64,420],[22.66,460],[22.68,410],[22.70,440],[22.72,470],[22.74,420],[22.76,320],[22.78,660],[22.80,440],[22.82,400],[22.84,480],[22.86,420],[22.88,390],[22.90,650],[22.92,440],[22.94,410],[22.96,380],[22.98,430],
[22.01,370],[22.03,400],[22.05,360],[22.07,380],[22.09,390],[22.11,360],[22.13,390],[22.15,360],[22.17,390],[22.19,370],[22.21,400],[22.23,380],[22.25,360],[22.27,400],[22.29,380],[22.31,350],[22.33,390],[22.35,360],[22.37,380],[22.39,400],[22.41,370],[22.43,390],[22.45,400],[22.47,360],[22.49,410],[22.51,380],[22.53,410],[22.55,400],[22.57,430],[22.59,390],[22.61,420],[22.63,440],[22.65,410],[22.67,430],[22.69,450],[22.71,420],[22.73,440],[22.75,400],[22.77,450],[22.79,420],[22.81,460],[22.83,430],[22.85,400],[22.87,440],[22.89,420],[22.91,410],[22.93,390],[22.95,430],[22.97,400],[22.99,390],
[23.00,410],[23.02,380],[23.04,440],[23.06,400],[23.08,370],[23.10,420],[23.12,390],[23.14,350],[23.16,400],[23.18,370],[23.20,340],[23.22,390],[23.24,360],[23.26,100],[23.28,380],[23.30,330],[23.32,370],[23.34,60],[23.36,350],[23.38,320],[23.40,380],[23.42,340],[23.44,300],[23.46,555],[23.48,350],[23.50,310],[23.52,360],[23.54,320],[23.56,280],[23.58,565],[23.60,300],[23.62,270],[23.64,150],[23.65,320],[23.66,250],[23.68,290],[23.70,215],[23.71,70],[23.72,260],[23.74,190],[23.76,300],[23.77,155],[23.78,270],[23.80,230],[23.82,300],[23.84,250],[23.86,290],[23.87,150],[23.88,270],[23.89,180],[23.90,130],[23.91,80],[23.92,310],[23.93,160],[23.94,240],[23.95,290],
[23.01,400],[23.03,420],[23.05,390],[23.07,410],[23.09,390],[23.11,380],[23.13,410],[23.15,380],[23.17,350],[23.19,390],[23.21,370],[23.23,350],[23.25,380],[23.27,340],[23.29,360],[23.31,350],[23.33,330],[23.35,370],[23.37,330],[23.39,360],[23.41,320],[23.43,350],[23.45,330],[23.47,300],[23.49,330],[23.51,300],[23.53,290],[23.55,330],[23.57,300],[23.59,270],[23.61,290],[23.63,250],[23.67,270],[23.69,300],[23.73,280],[23.75,250],[23.79,280],[23.81,260],[23.83,280],[23.85,300],[23.93,280],[23.96,300],
[24.00,380],[24.02,420],[24.04,460],[24.06,400],[24.08,370],[24.10,440],[24.12,410],[24.14,360],[24.16,390],[24.18,430],[24.20,470],[24.22,400],[24.24,350],[24.26,570],[24.28,380],[24.30,420],[24.32,450],[24.34,500],[24.36,390],[24.38,360],[24.40,410],[24.42,440],[24.44,380],[24.46,350],[24.48,420],[24.50,460],[24.52,400],[24.54,370],[24.56,430],[24.58,390],[24.60,360],[24.62,440],[24.64,300],[24.65,280],[24.66,410],[24.68,460],[24.70,390],[24.72,430],[24.74,500],[24.76,410],[24.78,370],[24.80,440],[24.82,490],[24.84,400],[24.86,360],[24.88,450],[24.90,500],[24.92,420],[24.94,380],[24.96,470],[24.98,400],
[24.01,400],[24.03,360],[24.05,430],[24.07,390],[24.09,420],[24.11,380],[24.13,440],[24.15,400],[24.17,370],[24.19,410],[24.21,440],[24.23,380],[24.25,420],[24.27,400],[24.29,360],[24.31,390],[24.33,420],[24.35,370],[24.37,440],[24.39,400],[24.41,370],[24.43,410],[24.45,440],[24.47,390],[24.49,360],[24.51,430],[24.53,380],[24.55,410],[24.57,360],[24.59,450],[24.61,400],[24.63,380],[24.67,370],[24.69,420],[24.71,360],[24.73,400],[24.75,450],[24.77,380],[24.79,420],[24.81,370],[24.83,450],[24.85,380],[24.87,420],[24.89,360],[24.91,460],[24.93,390],[24.95,430],[24.97,370],[24.99,450]
];

var energyRight = [
[17.61,300],[17.62,340],[17.63,414],[17.64,280],[17.65,330],[17.66,373],[17.67,360],[17.68,705],[17.69,300],[17.70,650],[17.71,380],[17.72,330],[17.73,599],[17.74,290],[17.75,476],[17.76,400],[17.77,322],[17.78,360],[17.79,300],[17.80,353],[17.81,420],[17.82,394],[17.83,350],[17.84,280],[17.85,4],[17.86,609],[17.87,330],[17.88,380],[17.89,476],[17.90,250],[17.91,681],[17.92,517],[17.93,350],[17.94,199],[17.95,312],[17.96,400],[17.97,4],[17.98,320],[17.99,373],
[18.00,4],[18.01,332],[18.02,280],[18.03,420],[18.04,300],[18.05,640],[18.06,450],[18.07,350],[18.08,373],[18.09,400],[18.10,300],[18.11,517],[18.12,420],[18.13,380],[18.14,500],[18.15,455],[18.16,400],[18.17,350],[18.18,460],[18.19,588],[18.20,420],[18.21,380],[18.22,763],[18.23,480],[18.24,400],[18.25,783],[18.26,450],[18.27,537],[18.28,380],[18.29,640],[18.30,4],[18.31,420],[18.32,500],[18.33,455],[18.34,400],[18.35,460],[18.36,537],[18.37,380],[18.38,480],[18.39,312],[18.40,420],[18.41,500],[18.42,380],[18.43,435],[18.44,470],[18.45,520],[18.46,420],[18.47,558],[18.48,360],[18.49,480],[18.50,435],[18.51,520],[18.52,400],[18.53,460],[18.54,599],[18.54,4],[18.55,500],[18.56,420],[18.57,681],[18.58,470],[18.59,400],[18.60,450],[18.61,537],[18.62,380],[18.63,500],[18.64,701],[18.65,440],[18.66,520],[18.67,383],[18.68,450],[18.69,400],[18.70,496],[18.71,460],[18.72,520],[18.73,430],[18.74,578],[18.75,380],[18.76,480],[18.77,537],[18.78,440],[18.79,500],[18.80,400],[18.81,342],[18.82,460],[18.83,520],[18.84,430],[18.85,619],[18.86,470],[18.87,400],[18.88,517],[18.89,480],[18.90,560],[18.91,691],[18.92,450],[18.93,500],[18.94,420],[18.95,424],[18.96,470],[18.97,578],[18.98,520],[18.99,450],
[19.01,500],[19.02,460],[19.03,640],[19.04,520],[19.05,420],[19.06,560],[19.07,568],[19.08,480],[19.09,600],[19.10,886],[19.11,520],[19.12,460],[19.13,752],[19.14,560],[19.15,500],[19.16,701],[19.17,460],[19.18,763],[19.19,540],[19.20,420],[19.21,500],[19.22,496],[19.23,440],[19.24,540],[19.25,619],[19.26,480],[19.27,400],[19.28,520],[19.29,445],[19.30,4],[19.31,886],[19.32,460],[19.33,763],[19.34,520],[19.35,420],[19.36,480],[19.37,578],[19.38,430],[19.39,500],[19.40,380],[19.41,414],[19.42,460],[19.43,400],[19.44,629],[19.45,440],[19.46,312],[19.47,400],[19.48,460],[19.49,380],[19.50,476],[19.51,420],[19.52,460],[19.53,400],[19.54,455],[19.55,440],[19.56,380],[19.57,420],[19.58,701],[19.59,460],[19.60,400],[19.61,353],[19.62,440],[19.63,380],[19.64,537],[19.65,420],[19.66,460],[19.67,400],[19.68,424],[19.69,440],[19.70,380],[19.71,435],[19.72,420],[19.73,460],[19.74,400],[19.75,496],[19.76,440],[19.77,380],[19.78,322],[19.79,4],[19.80,420],[19.81,460],[19.82,435],[19.83,400],[19.84,360],[19.85,547],[19.86,420],[19.87,380],[19.88,320],[19.89,373],[19.90,350],[19.91,300],[19.92,394],[19.93,340],[19.94,300],[19.95,260],[19.96,281],[19.97,320],[19.98,280],[19.99,250],
[20.00,271],[20.01,230],[20.02,300],[20.03,250],[20.04,312],[20.05,200],[20.06,280],[20.07,240],[20.08,209],[20.09,4],[20.10,200],[20.11,250],[20.12,230],[20.13,180],[20.14,260],[20.15,168],[20.16,200],[20.17,150],[20.18,230],[20.19,220],[20.20,170],[20.21,250],[20.22,189],[20.23,200],[20.24,160],[20.25,271],[20.26,220],[20.27,180],[20.28,240],[20.29,199],[20.30,170],[20.31,210],[20.32,148],[20.33,190],[20.34,230],[20.35,160],[20.36,209],[20.37,190],[20.38,230],[20.39,168],[20.40,180],[20.41,150],[20.42,210],[20.43,301],[20.44,170],[20.45,200],[20.46,178],[20.47,150],[20.48,190],[20.49,160],[20.50,219],[20.51,180],[20.52,140],[20.53,200],[20.54,148],[20.55,170],[20.56,130],[20.57,220],[20.58,189],[20.59,150],[20.60,170],[20.61,140],[20.62,127],[20.63,160],[20.64,120],[20.65,168],[20.66,150],[20.67,180],[20.68,120],[20.69,137],[20.70,150],[20.71,110],[20.72,199],[20.73,140],[20.74,100],[20.75,150],[20.76,127],[20.77,110],[20.78,90],[20.79,107],[20.80,120],[20.81,80],[20.82,100],[20.83,76],[20.84,60],[20.85,35],[20.86,50],[20.87,30],[20.88,14],
[20.90,20],[20.93,40],[20.96,25],[20.99,15],[21.02,30],[21.05,45],[21.08,20],[21.11,35],[21.14,25],[21.17,40],[21.20,20],[21.23,30],[21.26,15],[21.29,50],[21.32,25],[21.35,35],[21.38,20],[21.41,30],[21.44,15],[21.47,25],[21.50,12],[21.54,20],[21.58,10],[21.62,18],[21.66,12],[21.70,15],[21.75,10],[21.80,14],[21.85,10],[21.90,12],[21.95,9],[22.00,10],[22.05,8],[22.10,10],[22.15,8],[22.20,9],[22.25,8],[22.30,10],[22.35,8],[22.40,9],[22.45,8],[22.50,10],[22.55,9],[22.60,8],[22.65,10],[22.70,9],[22.75,8],[22.80,10],[22.85,9],[22.90,8],[22.95,10],[23.00,9],[23.05,8],[23.10,10],[23.15,9],[23.20,8],[23.25,10],[23.30,9],[23.35,8],[23.40,10],[23.45,8],[23.50,9],
[23.54,450],[23.55,537],[23.55,342],[23.56,400],[23.57,496],[23.58,963],[23.58,701],[23.59,394],[23.60,350],[23.61,430],[23.62,476],[23.62,250],[23.63,380],[23.64,537],[23.65,330],[23.66,445],[23.67,312],[23.68,400],[23.69,360],[23.70,480],[23.71,414],[23.72,350],[23.73,517],[23.73,4],[23.74,420],[23.75,300],[23.76,353],[23.77,400],[23.78,455],[23.79,350],[23.80,623],[23.81,420],[23.82,330],[23.83,383],[23.84,291],[23.85,380],[23.86,4],[23.87,414],[23.88,320],[23.89,280],[23.90,332],[23.91,400],[23.92,476],[23.93,300],[23.94,353],[23.95,420],[23.96,360],[23.97,537],[23.98,450],[23.99,599],
[24.01,720],[24.02,880],[24.03,600],[24.04,967],[24.05,820],[24.06,700],[24.07,590],[24.08,947],[24.09,760],[24.10,650],[24.11,845],[24.12,700],[24.13,560],[24.14,783],[24.15,650],[24.16,520],[24.17,600],[24.18,947],[24.19,700],[24.20,540],[24.21,640],[24.22,480],[24.23,742],[24.24,600],[24.25,363],[24.26,865],[24.27,342],[24.28,520],[24.29,660],[24.30,460],[24.31,620],[24.32,558],[24.33,500],[24.34,640],[24.35,560],[24.36,711],[24.37,480],[24.38,620],[24.39,537],[24.40,500],[24.41,560],[24.42,619],[24.43,680],[24.44,520],[24.45,600],[24.46,455],[24.47,540],[24.48,640],[24.49,500],[24.50,916],[24.51,660],[24.52,560],[24.53,742],[24.54,620],[24.55,578],[24.56,500],[24.57,660],[24.58,476],[24.59,540],[24.60,600],[24.61,640],[24.62,520],[24.63,680],[24.64,580],[24.65,978],[24.66,520],[24.67,773],[24.68,600],[24.69,640],[24.70,496],[24.71,560],[24.72,620],[24.73,660],[24.74,500],[24.75,640],[24.76,537],[24.77,580],[24.78,660],[24.79,520],[24.80,435],[24.81,600],[24.82,681],[24.83,540],[24.84,640],[24.85,480],[24.86,558],[24.87,600],[24.88,520],[24.89,619],[24.90,420],[24.91,580],[24.92,640],[24.93,496],[24.94,540],[24.95,600],[24.96,804],[24.97,500],[24.98,373],[24.99,760]
];

var FONT = '"DejaVu Sans"';
Chart.defaults.font.family = 'DejaVu Sans';
Chart.defaults.color = '#000';

function dayLabel(v) {
  return (v < 10 ? '0' + v : '' + v) + '-05';
}

// frame, letter box, rotated axis title, tech-issues span
var decor = {
  id: 'decor',
  beforeDatasetsDraw: function (chart, args, o) {
    if (!o.shade) return;
    var ca = chart.chartArea, xs = chart.scales.x, ctx = chart.ctx;
    var x0 = xs.getPixelForValue(o.shade[0]), x1 = xs.getPixelForValue(o.shade[1]);
    ctx.save();
    ctx.fillStyle = 'rgba(150,150,150,0.38)';
    ctx.fillRect(x0, ca.top, x1 - x0, ca.bottom - ca.top);
    ctx.fillStyle = '#000';
    ctx.font = 'italic 13px ' + FONT;
    ctx.textAlign = 'center';
    ctx.textBaseline = 'middle';
    ctx.fillText('Tech. issues', xs.getPixelForValue(22.06), ca.top + 25);
    ctx.restore();
  },
  afterDatasetsDraw: function (chart, args, o) {
    var ca = chart.chartArea, ctx = chart.ctx;
    ctx.save();
    ctx.strokeStyle = '#000';
    ctx.lineWidth = 1.8;
    ctx.strokeRect(ca.left, ca.top, ca.right - ca.left, ca.bottom - ca.top);

    var bx = ca.left + 2.5, by = ca.top + 1;
    ctx.fillStyle = '#fff';
    ctx.fillRect(bx, by, 24.5, 31);
    ctx.strokeRect(bx, by, 24.5, 31);
    ctx.fillStyle = '#000';
    ctx.font = '16px ' + FONT;
    ctx.textAlign = 'center';
    ctx.textBaseline = 'middle';
    ctx.fillText(o.letter, bx + 12.25, by + 15.5);

    ctx.font = '18px ' + FONT;
    var cy = (ca.top + ca.bottom) / 2;
    for (var i = 0; i < o.label.length; i++) {
      ctx.save();
      ctx.translate(o.labelX[i], cy);
      ctx.rotate(-Math.PI / 2);
      ctx.fillText(o.label[i], 0, 0);
      ctx.restore();
    }
    ctx.restore();
  }
};

function noPad(s) {
  s.paddingTop = 0; s.paddingBottom = 0; s.paddingLeft = 0; s.paddingRight = 0;
}

function panel(o) {
  var right = o.side === 'right';
  var cv = document.createElement('canvas');
  cv.width = right ? 647 : 660;
  cv.height = o.row.h;
  cv.style.left = (right ? 660 : 0) + 'px';
  cv.style.top = o.row.top + 'px';
  document.getElementById('wrap').appendChild(cv);
  var bottom = o.row.xh > 20;

  return new Chart(cv, {
    type: 'scatter',
    data: {
      datasets: [{
        data: o.points.map(function (p) { return { x: p[0], y: p[1] }; }),
        backgroundColor: o.fill,
        borderColor: o.edge,
        borderWidth: 1,
        pointRadius: 4.3,
        pointHoverRadius: 4.3,
        clip: 0
      }]
    },
    options: {
      responsive: false,
      animation: false,
      devicePixelRatio: 1,
      events: [],
      layout: { padding: right ? { left: 10, top: o.row.padTop, right: 0, bottom: 0 }
                               : { left: 0, top: o.row.padTop, right: 9, bottom: 0 } },
      plugins: {
        legend: { display: false },
        tooltip: { enabled: false },
        decor: { letter: o.letter, label: o.label, labelX: o.labelX, shade: o.shade }
      },
      scales: {
        x: {
          type: 'linear',
          min: o.xr[0], max: o.xr[1],
          afterBuildTicks: function (s) { s.ticks = o.days.map(function (v) { return { value: v }; }); },
          afterFit: function (s) { s.height = o.row.xh; noPad(s); },
          grid: { color: '#b4b4b4', lineWidth: 1.6, tickColor: '#000', tickLength: 7, tickWidth: 1.5 },
          border: { display: true, color: '#000', width: 1.8 },
          ticks: { display: bottom, callback: dayLabel, font: { size: 18 }, padding: 5, maxRotation: 0, autoSkip: false },
          title: { display: bottom, text: 'dd-mm-2021', font: { size: 18 }, padding: 0 }
        },
        y: {
          position: right ? 'right' : 'left',
          min: o.yr[0], max: o.yr[1],
          afterBuildTicks: function (s) { s.ticks = o.yticks.map(function (v) { return { value: v }; }); },
          afterFit: function (s) { s.width = right ? 111 : 126; noPad(s); },
          grid: { drawOnChartArea: false, tickColor: '#000', tickLength: 7, tickWidth: 1.5 },
          border: { display: true, color: '#000', width: 1.8 },
          ticks: { callback: function (v) { return '' + v; }, font: { size: 18 }, padding: 3, autoSkip: false }
        }
      }
    },
    plugins: [decor]
  });
}

var rows = [
  { top: 0, h: 218, padTop: 13, xh: 10 },
  { top: 208, h: 218, padTop: 10, xh: 10 },
  { top: 416, h: 266, padTop: 10, xh: 60 }
];
var blueFill = 'rgba(31,119,180,0.3)', blueEdge = 'rgba(31,119,180,0.36)';
var greyFill = 'rgba(0,0,0,0.3)', greyEdge = 'rgba(0,0,0,0.35)';

panel({ side: 'left', row: rows[0], letter: 'a', points: durLeft, xr: [2, 8], days: leftDays,
  yr: [0, 2180], yticks: durTicks, fill: blueFill, edge: blueEdge, label: ['Duration [s]'], labelX: [45] });
panel({ side: 'left', row: rows[1], letter: 'b', points: reposeLeft, xr: [2, 8], days: leftDays,
  yr: [54, 705], yticks: reposeTicks, fill: greyFill, edge: greyEdge, label: ['Repose [s]'], labelX: [57] });
panel({ side: 'left', row: rows[2], letter: 'c', points: energyLeft, xr: [2, 8], days: leftDays,
  yr: [0, 1000], yticks: energyTicks, fill: '#ff4500', edge: '#ff4500',
  label: ['Relative acoustic', 'energy [Pa\u00b2s]'], labelX: [21, 44] });

panel({ side: 'right', row: rows[0], letter: 'd', points: durRight, xr: [17.6, 25], days: rightDays,
  yr: [0, 2180], yticks: durTicks, fill: 'rgba(31,119,180,0.5)', edge: 'rgba(31,119,180,0.55)', label: ['Duration [s]'], labelX: [613] });
panel({ side: 'right', row: rows[1], letter: 'e', points: reposeRight, xr: [17.6, 25], days: rightDays,
  yr: [54, 705], yticks: reposeTicks, fill: 'rgba(0,0,0,0.35)', edge: 'rgba(0,0,0,0.4)', label: ['Repose [s]'], labelX: [600] });
panel({ side: 'right', row: rows[2], letter: 'f', points: energyRight, xr: [17.6, 25], days: rightDays,
  yr: [0, 1000], yticks: energyTicks, fill: '#ff4500', edge: '#ff4500', shade: techIssues,
  label: ['Relative acoustic', 'energy [Pa\u00b2s]'], labelX: [612, 634] });
</script>
</body>
</html>
